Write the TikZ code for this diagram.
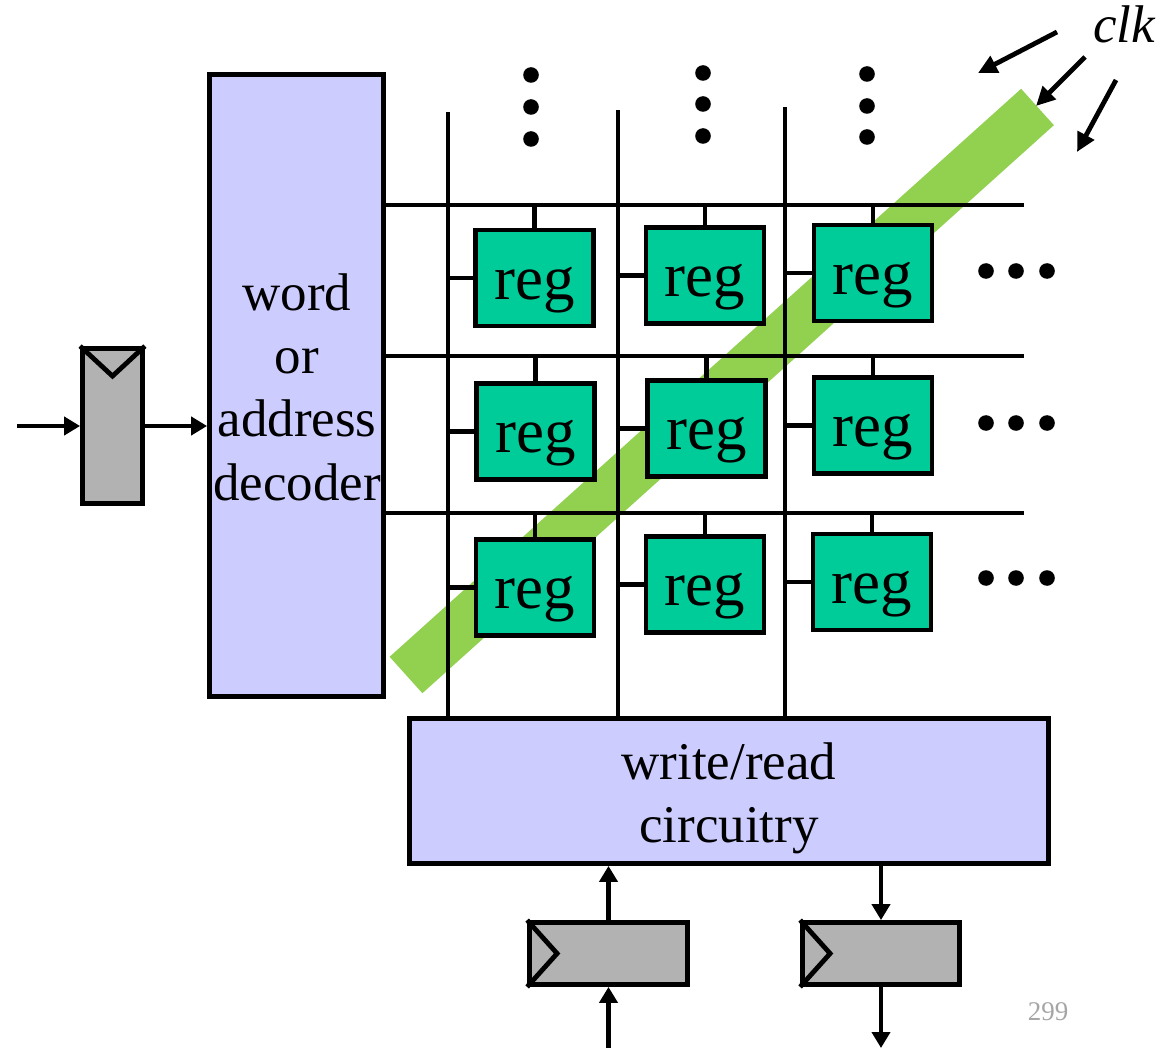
\documentclass[tikz,border=0pt]{standalone}
\usepackage{fontspec}
\setmainfont{Liberation Serif}
\usetikzlibrary{arrows.meta}
\definecolor{decfill}{HTML}{CCCCFF}
\definecolor{regfill}{HTML}{00CC99}
\definecolor{ffgray}{HTML}{B2B2B2}
\definecolor{clkgreen}{HTML}{92D050}
\definecolor{pagenum}{HTML}{A6A6A6}
\begin{document}
\begin{tikzpicture}[x=1pt,y=-1pt,
  wire/.style={line width=4.8pt},
  sig/.style={line width=4.8pt,-{Triangle[length=16pt,width=18pt]}},
  clkarrow/.style={line width=4.8pt,-{Triangle[length=19pt,width=18pt]}},
  block/.style={draw,line width=4.8pt,fill=decfill,inner sep=0pt},
  regcell/.style={draw,line width=4.8pt,fill=regfill,inner sep=0pt,
    minimum width=118pt,minimum height=96pt,
    font=\fontsize{63}{70}\selectfont,text height=56pt,text depth=13.6pt},
  ff/.style={draw,line width=4.8pt,fill=ffgray,inner sep=0pt},
  big/.style={font=\fontsize{53}{63.3}\selectfont,align=center,inner sep=0pt},
]
\useasboundingbox (0,0) rectangle (1159,1048);

% clock distribution strip (drawn first, under everything)
\draw[clkgreen,line width=49pt] (406,675) -- (1037.5,107);

% decoder and write/read blocks
\node[block,minimum width=174pt,minimum height=622pt] (dec) at (296.5,385.5) {};
\node[big] (dectext) at (297,387) {word\\or\\address\\decoder};
\node[block,minimum width=639pt,minimum height=145pt] (wr) at (729,791) {};
\node[big] (wrtext) at (729,798.5) {write/read\\circuitry};

% flip-flops
\node[ff,minimum width=60pt,minimum height=155pt] (lreg) at (112.5,426) {};
\draw[wire] (lreg.north west) -- ([yshift=-30pt]lreg.north) -- (lreg.north east);
\node[ff,minimum width=158pt,minimum height=62pt] (inreg) at (608.5,953.5) {};
\draw[wire] (inreg.north west) -- ([xshift=30pt]inreg.west) -- (inreg.south west);
\node[ff,minimum width=157pt,minimum height=62pt] (outreg) at (881,953.5) {};
\draw[wire] (outreg.north west) -- ([xshift=30pt]outreg.west) -- (outreg.south west);

% register array
\node[regcell] (R11) at (534.5,278)   {reg};
\node[regcell] (R12) at (705,275.5)   {reg};
\node[regcell] (R13) at (873,273)     {reg};
\node[regcell] (R21) at (535.5,431.5) {reg};
\node[regcell] (R22) at (706.5,428.5) {reg};
\node[regcell] (R23) at (873,425.5)   {reg};
\node[regcell] (R31) at (535,587.5)   {reg};
\node[regcell] (R32) at (705,584.5)   {reg};
\node[regcell] (R33) at (872,582)     {reg};

% word lines and bit lines
\coordinate (w1) at (1024,205);
\coordinate (w2) at (1024,356);
\coordinate (w3) at (1024,513);
\coordinate (b1) at (448,112);
\coordinate (b2) at (618,110);
\coordinate (b3) at (785,107);
\foreach \w in {w1,w2,w3} \draw[wire] (dec.east |- \w) -- (\w);
\foreach \b in {b1,b2,b3} \draw[wire] (\b) -- (\b |- wr.north);
\foreach \r/\w in {1/w1,2/w2,3/w3}
  \foreach \c/\b in {1/b1,2/b2,3/b3} {
    \draw[wire] (R\r\c.north) -- (R\r\c.north |- \w);
    \draw[wire] (R\r\c.west) -- (R\r\c.west -| \b);
  }

% continuation dots
\foreach \x/\y in {531/75,531/107,531/139, 703/73,703/104,703/136, 867/74,867/106,867/137,
                   986/271,1016/271,1047/271, 986/423,1016/423,1047/423, 986/578,1016/578,1047/578}
  \fill (\x,\y) circle[radius=7.8pt];

% address path
\coordinate (ain) at (17,426);
\draw[sig] (ain) -- (lreg.west);
\draw[sig] (lreg.east) -- (lreg.east -| dec.west);

% data in / data out
\coordinate (din) at (608.5,1048);
\draw[sig] (din) -- (inreg.south);
\draw[sig] (inreg.north) -- (inreg.north |- wr.south);
\draw[sig] (wr.south -| outreg.north) -- (outreg.north);
\coordinate (dout) at (881,1048);
\draw[sig] (outreg.south) -- (dout);

% clock label and arrows
\node[font=\fontsize{53}{60}\selectfont\itshape,inner sep=0pt,anchor=base] (clk) at (1124,43) {clk};
\coordinate (k1s) at (1057,32);  \coordinate (k1e) at (978,73);
\coordinate (k2s) at (1085,57);  \coordinate (k2e) at (1036,106);
\coordinate (k3s) at (1116,80);  \coordinate (k3e) at (1077,152);
\draw[clkarrow] (k1s) -- (k1e);
\draw[clkarrow] (k2s) -- (k2e);
\draw[clkarrow] (k3s) -- (k3e);

% page number
\node[font=\fontsize{27}{30}\selectfont,text=pagenum,inner sep=0pt,anchor=base] (pg) at (1048,1020) {299};
\end{tikzpicture}
\end{document}
